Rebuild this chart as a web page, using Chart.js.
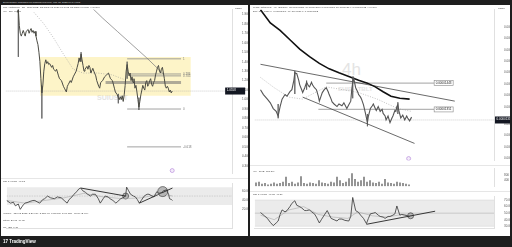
<!DOCTYPE html>
<html>
<head>
<meta charset="utf-8">
<script src="https://cdn.jsdelivr.net/npm/chart.js@4.4.1/dist/chart.umd.min.js"></script>
<style>
  html, body { margin: 0; padding: 0; width: 512px; height: 247px; overflow: hidden; background: #1e1e1e; font-family: "Liberation Sans", Arial, sans-serif; }
  .panel { position: absolute; background: #fff; }
  canvas { position: absolute; }
  .t { position: absolute; white-space: nowrap; font-size: 2.5px; line-height: 3px; color: #444; }
  .wm { position: absolute; white-space: nowrap; color: #e4e4e4; font-weight: bold; }
  .sep { position: absolute; height: 1px; background: #e6e6e6; }
</style>
</head>
<body>
<div class="panel" style="left:1px;top:5px;width:247px;height:231px"></div>
<div class="panel" style="left:250px;top:5px;width:260px;height:231px"></div>

<div class="wm" style="left:97px;top:94px;font-size:7px">SUIUSDT</div>
<div class="wm" style="left:342px;top:60px;font-size:17px;font-weight:normal">4h</div>
<div class="wm" style="left:338px;top:86px;font-size:6px">SHIB · TBLT</div>

<div class="sep" style="left:1px;top:178px;width:247px"></div>
<div class="sep" style="left:250px;top:165px;width:260px"></div>
<div class="sep" style="left:250px;top:191px;width:260px"></div>

<canvas id="lp" width="247" height="173" style="left:1px;top:5px"></canvas>
<canvas id="lr" width="247" height="58" style="left:1px;top:178px"></canvas>
<canvas id="rp" width="260" height="160" style="left:250px;top:5px"></canvas>
<canvas id="rv" width="260" height="25" style="left:250px;top:165px"></canvas>
<canvas id="rr" width="260" height="44" style="left:250px;top:192px"></canvas>

<div class="t" style="left:3px;top:1px;color:#ddd">DurkoTrader published on TradingView.com, Mar 08, 2025 09:14 UTC</div>
<div class="t" style="left:3px;top:6px">SUI / TetherUS · 1D · BINANCE &nbsp;O1.0892 H1.1030 L1.0465 C1.0558 −0.0334 (−3.07%)</div>
<div class="t" style="left:3px;top:10px">Vol · SUI &nbsp;8.12M</div>
<div class="t" style="left:235px;top:7px">USDT</div>
<div class="t" style="left:3px;top:180px">RSI 14 close &nbsp;47.12</div>
<div class="t" style="left:3px;top:212px">Volume · Jan 08 2025 &nbsp;5.21 679 &nbsp;5.229.42 &nbsp;0.38 895 &nbsp;5.77 688 &nbsp;-36.89 (2.9%)</div>
<div class="t" style="left:3px;top:219px">Stoch &nbsp;20.31 &nbsp;14.05</div>
<div class="t" style="left:3px;top:226px">ML · BB &nbsp;1.11</div>

<div class="t" style="left:253px;top:6px">SHIB / TetherUS · 4h · Binance &nbsp;O0.00001326 H0.00001330 L0.00001310 C0.00001314 −0.00000012 (−0.90%)</div>
<div class="t" style="left:253px;top:10px">EMA 200 close 0 &nbsp;0.00001391 &nbsp;MA 20 close 0 &nbsp;0.00001362</div>
<div class="t" style="left:498px;top:7px">USDT</div>
<div class="t" style="left:253px;top:170px">Vol · SHIB &nbsp;157.3M</div>
<div class="t" style="left:253px;top:193px">RSI 14 close &nbsp;47.38 &nbsp;47.80</div>

<div style="position:absolute;left:3px;top:239px;color:#fff;font-size:4.5px;font-weight:bold;white-space:nowrap">17 TradingView</div>

<script>
// ---- left pane (1D) ----
const leftBar = [13,14,15,16,17,18,19,20,21,22,24,25,26,27,28,29,30,31,32,33,34,35,36,37,38,39,40,41,42,43,44,45,46,48,49,50,52,53,55,56,58,60,61,63,64,65,67,68,70,71,73,74,75,76,77,78,79,80,81,82,84,85,86,87,88,90,91,93,94,96,97,98,100,102,104,106,107,108,110,112,113,115,116,117,118,119,120,121,122,123,124,125,126,127,128,129,130,131,132,133,134,135,136,137,138,139,140,141,142,143,144,145,146,147,148,149,150,151,152,153,154,155,156,157,158,159,160,161,162,163,164,165,166,167,168,169,170,171];
const leftClose = [1.92,1.95,1.78,1.70,1.67,1.70,1.73,1.70,1.67,1.72,1.74,1.70,1.73,1.75,1.71,1.73,1.70,1.72,1.67,1.62,1.58,1.50,1.40,1.22,1.07,1.15,1.30,1.38,1.42,1.38,1.40,1.37,1.38,1.34,1.36,1.32,1.30,1.32,1.25,1.22,1.20,1.14,1.12,1.08,1.14,1.16,1.20,1.18,1.24,1.26,1.30,1.34,1.38,1.44,1.40,1.48,1.42,1.36,1.30,1.32,1.35,1.32,1.36,1.34,1.28,1.33,1.30,1.25,1.20,1.14,1.12,1.18,1.20,1.24,1.26,1.28,1.25,1.22,1.20,1.12,1.08,1.05,1.02,1.00,1.03,1.00,1.04,0.98,1.05,1.15,1.30,1.37,1.30,1.25,1.28,1.20,1.24,1.18,1.22,1.12,1.15,1.08,1.00,0.92,0.98,1.05,1.10,1.15,1.12,1.10,1.18,1.20,1.14,1.16,1.20,1.22,1.16,1.14,1.18,1.20,1.26,1.30,1.34,1.36,1.30,1.28,1.32,1.34,1.28,1.22,1.14,1.12,1.14,1.12,1.08,1.10,1.07,1.09];
const leftWickBar = [14, 38, 78, 116, 125, 137];
const leftWickHigh = [1.95, 1.15, 1.50, 1.06, 1.40, 1.02];
const leftWickLow = [1.45, 0.80, 1.40, 0.96, 1.22, 0.89];
const leftMaBar = [88, 100, 115, 130, 145, 157, 162];
const leftMa = [1.98, 1.86, 1.72, 1.58, 1.44, 1.32, 1.27];
const leftSmaBar = [30, 40, 50, 60, 70, 80, 95, 110, 125];
const leftSma = [1.92, 1.80, 1.65, 1.48, 1.32, 1.28, 1.28, 1.26, 1.20];
const leftRange = [36, 190, 1.45, 1.04];           // from bar, to bar, top, bottom
const leftFib = [[125,180,1.43],[127,180,1.27],[127,180,1.25],[125,180,0.90],[125,180,0.50]];
const leftFibText = ['1', '0.786', '0.705', '0', '-0.618'];
const leftZone = [103, 180, 1.18];
const leftLast = 1.09;
const leftPriceTicks = [0.3,0.4,0.5,0.6,0.7,0.8,0.9,1.0,1.1,1.2,1.3,1.4,1.5,1.6,1.7,1.8,1.9];

const leftRsiBar = [1,5,8,10,13,15,18,20,23,25,28,30,33,35,38,40,43,46,50,53,57,60,63,65,68,70,73,75,77,79,82,84,87,89,92,95,97,100,102,105,107,110,113,115,118,120,123,124,126,128,131,133,135,137,139,142,145,147,150,152,155,157,160,162,165,167,168,170,171];
const leftRsi = [40,34,36,28,32,20,30,34,36,38,40,40,36,34,42,44,50,46,44,48,46,40,34,42,48,54,60,66,68,62,58,54,50,54,54,44,34,44,50,48,44,40,34,38,44,46,50,70,62,54,50,48,42,34,40,50,54,54,50,48,60,56,58,62,64,54,44,42,40];
const leftRsiMaBar = [1,20,40,60,80,100,120,140,160,171];
const leftRsiMa = [40,34,40,46,56,48,44,46,56,50];
const leftRsiTrend = [[77,123,68,50],[137,171,34,68]];
const leftRsiRings = [[123,50,3],[161,60,5]];
const leftTimeBar = [15,29,42,56,68,82,95,108,121,138,151,164,178,191,203,217,230];
const leftTimeLabels = ['Feb','3','6','10','13','17','20','24','27','Mar','6','10','13','17','20','24','27'];

// ---- right pane (4h), prices in units of 1e-8 ----
const rightBar = [256,259,263,266,269,272,274,276,278,281,283,286,288,290,291,293,295,296,298,299,301,303,305,306,308,309,311,313,315,316,318,319,321,323,325,326,328,329,331,334,336,339,341,344,346,348,349,350,351,353,355,356,358,359,361,363,365,366,368,370,371,373,374,376,378,380,381,383,384,386,388,390,391,393,394,395,396,397,399,401,403,405,406,408,410];
const rightClose = [1420,1403,1387,1374,1354,1344,1328,1361,1387,1403,1397,1413,1420,1453,1479,1476,1453,1437,1420,1410,1426,1446,1433,1430,1446,1437,1427,1420,1397,1380,1400,1410,1420,1427,1413,1403,1387,1377,1370,1361,1370,1364,1374,1354,1367,1380,1420,1446,1460,1427,1413,1403,1394,1387,1367,1337,1305,1328,1354,1364,1370,1354,1347,1361,1344,1351,1337,1328,1314,1328,1305,1321,1328,1347,1344,1361,1367,1347,1321,1331,1314,1328,1321,1311,1324];
const rightWickBar = [274, 291, 303, 350, 365, 396];
const rightWickHigh = [1370, 1486, 1452, 1466, 1335, 1376];
const rightWickLow = [1320, 1405, 1420, 1390, 1292, 1335];
const rightEmaBar = [256,266,276,286,296,306,316,326,336,346,356,365,373,381,389,398,408];
const rightEma = [1700,1654,1628,1595,1562,1536,1512,1493,1479,1466,1453,1443,1430,1413,1397,1390,1387];
const rightSmaBar = [256,270,285,299,310,323,340,356,375,396,410];
const rightSma = [1463,1427,1394,1387,1407,1430,1420,1410,1387,1354,1344];
const rightChannel = [[256,454,1509,1380],[299,413,1394,1232]];
const rightLevels = [[323,433,1443],[315,433,1351]];
const rightLast = 1314;
const rightPriceTicks = [1180,1200,1220,1240,1260,1280,1300,1340,1360,1380,1400,1420,1440,1460,1480,1500,1520,1540,1560,1580,1600,1620,1640,1660];

const volBar = [256,259,262,265,268,271,274,277,280,283,286,289,292,295,298,301,304,307,310,313,316,319,322,325,328,331,334,337,340,343,346,349,352,355,358,361,364,367,370,373,376,379,382,385,388,391,394,397,400,403,406,409];
const volK = [250,300,150,200,100,150,250,150,200,300,650,200,300,150,250,700,200,150,250,200,150,400,250,200,150,300,250,650,400,200,300,550,900,500,300,400,650,300,400,250,200,300,150,500,250,200,150,300,250,200,150,100];

const rightRsiBar = [256,260,263,266,269,272,274,276,278,281,283,286,288,291,293,296,298,301,303,306,308,311,313,316,318,321,324,326,328,331,334,336,339,342,346,348,350,353,356,358,361,364,366,368,371,373,376,378,381,383,386,388,391,393,395,398,400,403,406,408];
const rightRsi = [51,46,42,36,31,35,38,48,55,52,54,60,65,69,62,60,58,54,54,55,52,49,44,35,40,47,54,48,42,40,38,41,41,39,38,45,74,54,51,47,42,34,42,49,50,51,47,45,44,42,45,45,47,49,61,47,48,47,46,45];
const rightRsiMaBar = [256,270,285,300,315,330,345,355,370,385,400,408];
const rightRsiMa = [47,40,55,60,48,44,42,52,46,44,48,47];
const rightRsiTrend = [[364,434,33,53]];
const rightRsiRings = [[409,46,3]];
const rightTimeBar = [259,270,281,292,303,313,324,335,346,357,368,378,389,399,410,421,432,443,453,464,475,486];
const rightTimeLabels = ['9','11','13','15','17','19','21','23','25','27','Mar','3','5','7','9','11','13','15','17','19','21','23'];

const FONT = '"Liberation Sans", Arial, sans-serif';
Chart.defaults.font.family = FONT;
Chart.defaults.animation = false;

const pts = (xs, ys) => xs.map((x, i) => ({ x, y: ys[i] }));
const hlines = (list) => {
  const d = [];
  list.forEach(([a, b, v]) => d.push({ x: a, y: v }, { x: b, y: v }, { x: b, y: null }));
  return d;
};
const slopes = (list) => {
  const d = [];
  list.forEach(([a, b, v1, v2]) => d.push({ x: a, y: v1 }, { x: b, y: v2 }, { x: b, y: null }));
  return d;
};
const wicks = (xs, hi, lo) => {
  const d = [];
  xs.forEach((x, i) => d.push({ x, y: hi[i] }, { x, y: lo[i] }, { x, y: null }));
  return d;
};
const line = (data, color, width, extra) => Object.assign({
  type: 'line', data, borderColor: color, borderWidth: width, pointRadius: 0,
  tension: 0, fill: false, spanGaps: false
}, extra || {});

// draws small tags (axis price boxes, level boxes, fib texts) at scale positions
const tagPlugin = {
  id: 'tags',
  afterDatasetsDraw(chart, args, opts) {
    const { ctx, scales } = chart;
    ctx.save();
    ctx.font = '3px ' + FONT;
    ctx.textBaseline = 'middle';
    (opts.items || []).forEach(t => {
      const px = scales.x.getPixelForValue(t.x);
      const py = scales.y.getPixelForValue(t.v);
      if (t.kind === 'axis') {
        ctx.fillStyle = '#131722';
        ctx.fillRect(px, py - 3.5, t.w, 7);
        ctx.fillStyle = '#fff';
        ctx.fillText(t.text, px + 1.5, py - 1);
      } else if (t.kind === 'box') {
        ctx.fillStyle = '#fff';
        ctx.fillRect(px, py - 2.5, t.w, 5);
        ctx.strokeStyle = '#888';
        ctx.lineWidth = 0.6;
        ctx.strokeRect(px, py - 2.5, t.w, 5);
        ctx.fillStyle = '#222';
        ctx.fillText(t.text, px + 1.5, py);
      } else {
        ctx.fillStyle = '#777';
        ctx.fillText(t.text, px, py);
      }
    });
    ctx.restore();
  }
};

const yAxis = (min, max, ticks, fmt, w) => ({
  type: 'linear', position: 'right', min, max,
  afterFit: s => { s.width = w; },
  afterBuildTicks: s => { s.ticks = ticks.map(v => ({ value: v })); },
  grid: { display: false },
  border: { color: '#e0e0e0' },
  ticks: { font: { size: 3 }, color: '#555', padding: 2, callback: fmt }
});
const xHidden = (min, max) => ({ type: 'linear', min, max, display: false, offset: false });
const xTime = (min, max, pos, labels) => ({
  type: 'linear', min, max, offset: false,
  afterFit: s => { s.height = 8; },
  afterBuildTicks: s => { s.ticks = pos.map(v => ({ value: v })); },
  grid: { display: false },
  border: { color: '#e0e0e0' },
  ticks: { autoSkip: false, maxRotation: 0, font: { size: 3.2 }, color: '#555', padding: 2.5,
           callback: (v, i) => labels[i] }
});
const opts = (scales, tags) => ({
  responsive: false, animation: false, events: [],
  layout: { padding: 0 },
  plugins: { legend: { display: false }, tooltip: { enabled: false }, tags: { items: tags || [] } },
  scales
});

// ---------- left price ----------
new Chart(document.getElementById('lp'), {
  type: 'line',
  data: { datasets: [
    line(pts(leftBar, leftClose), '#4b4b44', 1),
    line(wicks(leftWickBar, leftWickHigh, leftWickLow), '#555', 0.6),
    line(pts(leftMaBar, leftMa), '#777', 0.7),
    line(pts(leftSmaBar, leftSma), '#999', 0.6, { borderDash: [1, 1.5] }),
    line(hlines(leftFib), '#8a8a8a', 0.8),
    line(hlines([leftZone]), 'rgba(110,110,110,0.55)', 3),
    line(pts([1, 232], [leftLast, leftLast]), '#9a9a9a', 0.5, { borderDash: [1, 1] }),
    line(pts([171], [0.25]), '#b07fd6', 0.6, { showLine: false, pointRadius: 2, pointBorderWidth: 0.6,
         pointBorderColor: '#b07fd6', pointBackgroundColor: 'rgba(176,127,214,0.15)' }),
    line(pts([leftRange[0], leftRange[1]], [leftRange[2], leftRange[2]]), 'rgba(0,0,0,0)', 0,
         { fill: { value: leftRange[3] }, backgroundColor: 'rgba(250,226,110,0.38)', order: 10 })
  ]},
  options: opts({
    x: xHidden(1, 232),
    y: yAxis(0.22, 1.95, leftPriceTicks, v => v.toFixed(4), 16)
  }, [
    ...leftFib.map((f, i) => ({ x: 182, v: f[2], text: leftFibText[i], kind: 'plain' })),
    { x: 225, v: leftLast, text: '1.0558', kind: 'axis', w: 20 }
  ]),
  plugins: [tagPlugin]
});

// ---------- left RSI ----------
new Chart(document.getElementById('lr'), {
  type: 'line',
  data: { datasets: [
    line(pts(leftRsiBar, leftRsi), '#333', 0.8),
    line(pts(leftRsiMaBar, leftRsiMa), '#aaa', 0.6),
    line(slopes(leftRsiTrend), '#222', 0.9),
    line(leftRsiRings.map(r => ({ x: r[0], y: r[1] })), '#333', 0, { showLine: false,
         pointRadius: leftRsiRings.map(r => r[2]), pointBorderWidth: 0.6, pointBorderColor: '#333',
         pointBackgroundColor: 'rgba(90,90,90,0.35)' }),
    line(pts([1, 232], [50, 50]), '#b0b0b0', 0.5, { borderDash: [1.5, 1] }),
    line(pts([1, 232], [70, 70]), 'rgba(0,0,0,0)', 0,
         { fill: { value: 30 }, backgroundColor: 'rgba(130,130,130,0.16)', order: 10 })
  ]},
  options: opts({
    x: xTime(1, 232, leftTimeBar, leftTimeLabels),
    y: yAxis(-22, 78, [60, 40, 20], v => v.toFixed(2), 16)
  }),
  plugins: [tagPlugin]
});

// ---------- right price ----------
const fmtR = v => (v * 1e-8).toFixed(8);
new Chart(document.getElementById('rp'), {
  type: 'line',
  data: { datasets: [
    line(pts(rightBar, rightClose), '#555', 1.1),
    line(wicks(rightWickBar, rightWickHigh, rightWickLow), '#555', 0.6),
    line(pts(rightEmaBar, rightEma), '#111', 1.6),
    line(pts(rightSmaBar, rightSma), '#9a9a9a', 0.6, { borderDash: [1, 1.5] }),
    line(slopes(rightChannel), '#444', 0.8),
    line(hlines(rightLevels), '#b5b5b5', 1.3),
    line(pts([250, 494], [rightLast, rightLast]), '#9a9a9a', 0.5, { borderDash: [1, 1] }),
    line(pts([407], [1179]), '#b07fd6', 0.6, { showLine: false, pointRadius: 2, pointBorderWidth: 0.6,
         pointBorderColor: '#b07fd6', pointBackgroundColor: 'rgba(176,127,214,0.15)' })
  ]},
  options: opts({
    x: xHidden(250, 494),
    y: yAxis(1172.5, 1700.5, rightPriceTicks, fmtR, 16)
  }, [
    ...rightLevels.map(l => ({ x: l[1], v: l[2], text: fmtR(l[2]), kind: 'box', w: 19 })),
    { x: 495, v: rightLast, text: fmtR(rightLast), kind: 'axis', w: 16 }
  ]),
  plugins: [tagPlugin]
});

// ---------- right volume ----------
new Chart(document.getElementById('rv'), {
  type: 'bar',
  data: { datasets: [{
    data: pts(volBar, volK), backgroundColor: '#7f7f7f', barThickness: 1, borderWidth: 0
  }]},
  options: opts({
    x: xHidden(250, 494),
    y: yAxis(0, 1250, [400, 800], v => v + ' K', 16)
  })
});

// ---------- right RSI ----------
new Chart(document.getElementById('rr'), {
  type: 'line',
  data: { datasets: [
    line(pts(rightRsiBar, rightRsi), '#333', 0.8),
    line(pts(rightRsiMaBar, rightRsiMa), '#aaa', 0.6),
    line(slopes(rightRsiTrend), '#222', 0.9),
    line(rightRsiRings.map(r => ({ x: r[0], y: r[1] })), '#333', 0, { showLine: false,
         pointRadius: rightRsiRings.map(r => r[2]), pointBorderWidth: 0.6, pointBorderColor: '#333',
         pointBackgroundColor: 'rgba(90,90,90,0.35)' }),
    line(pts([250, 494], [50, 50]), '#b0b0b0', 0.6),
    line(pts([250, 494], [70, 70]), '#d0d0d0', 0.5, { fill: { value: 30 },
         backgroundColor: 'rgba(130,130,130,0.16)', order: 10 }),
    line(pts([250, 494], [30, 30]), '#d0d0d0', 0.5)
  ]},
  options: opts({
    x: xTime(250, 494, rightTimeBar, rightTimeLabels),
    y: yAxis(27.33, 75.33, [70, 60, 50, 40, 30], v => v.toFixed(2), 16)
  }),
  plugins: [tagPlugin]
});
</script>
</body>
</html>
